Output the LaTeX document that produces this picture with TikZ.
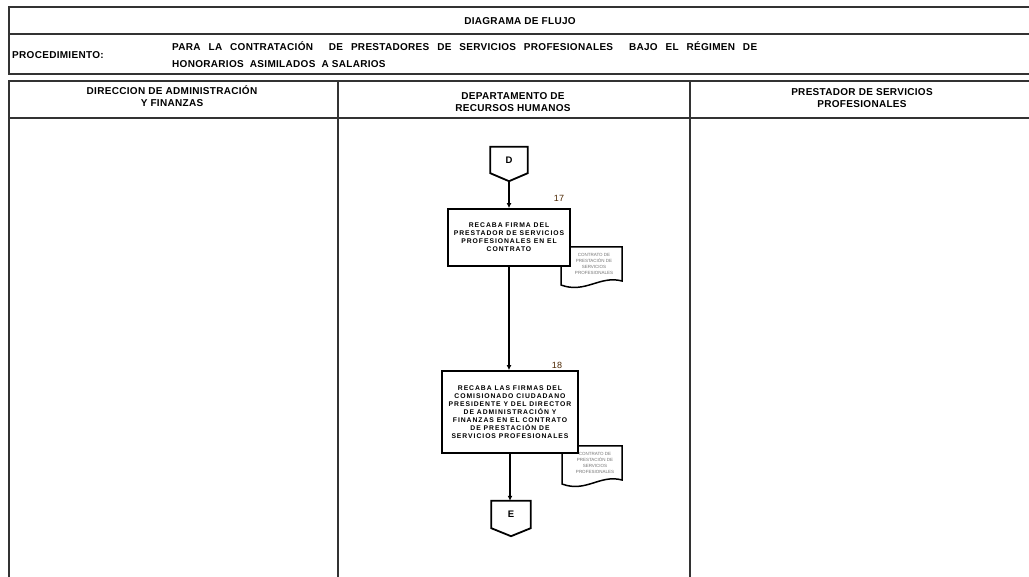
\documentclass[tikz,border=0pt]{standalone}
\usepackage{fontspec}
\setmainfont{Liberation Sans}
\newfontfamily\hdrfont[LetterSpace=3]{Liberation Sans}
\newfontfamily\boxfont[LetterSpace=14]{Liberation Sans}
\usetikzlibrary{arrows.meta}
\tikzset{
  x=1pt, y=-1pt,
  frame/.style={line width=2pt, draw=black!80},
  hdr/.style={font=\hdrfont\bfseries\fontsize{10}{12.5}\selectfont, inner sep=0pt, align=center},
  actbox/.style={draw=black, line width=1.8pt, fill=white, inner sep=0pt, align=center,
                 font=\boxfont\bfseries\fontsize{6.8}{7.9}\selectfont},
  docbox/.style={draw=black, line width=1.5pt, fill=white},
  doctext/.style={font=\fontsize{4.5}{6}\selectfont, text=black!55, align=center, inner sep=0pt},
  offpage/.style={draw=none, inner sep=0pt, font=\bfseries\fontsize{9.5}{10}\selectfont},
  offline/.style={draw=black, line width=1.8pt},
  flow/.style={draw=black, line width=2pt, -{Latex[length=5pt,width=5pt]}},
  stepnum/.style={font=\fontsize{9}{10}\selectfont, text=black!70!orange, inner sep=0pt}
}
\begin{document}
\begin{tikzpicture}
\useasboundingbox (0,0) rectangle (1029,577);
\clip (0,0) rectangle (1029,577);
\fill[white] (0,0) rectangle (1029,577);

% title block
\draw[frame] (1040,7) -- (9,7) -- (9,74) -- (1040,74);
\draw[frame] (9,34) -- (1040,34);
\node[hdr] (title) at (520,21) {DIAGRAMA DE FLUJO};
\node[hdr, anchor=west] (proc) at (12,55) {PROCEDIMIENTO:};
\node[hdr, anchor=north west, align=left, font=\hdrfont\bfseries\fontsize{10}{17}\selectfont] (proctext) at (172,41.5)
  {\makebox[585pt][s]{PARA LA CONTRATACIÓN \ DE PRESTADORES DE SERVICIOS PROFESIONALES \ BAJO EL RÉGIMEN DE}\\HONORARIOS \ ASIMILADOS \ A SALARIOS};

% swimlane table
\draw[frame] (1040,81) -- (9,81) -- (9,590);
\draw[frame] (9,118) -- (1040,118);
\draw[frame] (338,81) -- (338,590);
\draw[frame] (690,81) -- (690,590);
\node[hdr] (lane1) at (172,96) {DIRECCION DE ADMINISTRACIÓN\\Y FINANZAS};
\node[hdr] (lane2) at (513,102) {DEPARTAMENTO DE\\RECURSOS HUMANOS};
\node[hdr] (lane3) at (862,98) {PRESTADOR DE SERVICIOS\\PROFESIONALES};

% off-page connector D
\node[offpage, minimum width=37pt, minimum height=26pt] (D) at (509,160) {D};
\draw[offline] (D.north west) -- (D.north east) -- (D.south east) -- ([yshift=-8pt]D.south) -- (D.south west) -- cycle;
\coordinate (Dtip) at ([yshift=-8pt]D.south);

% document 1 (behind box 17)
\draw[docbox] (561,247) -- (622,247) -- (622,281) .. controls (600,275) and (585,294) .. (561,285) -- cycle;
\node[doctext] (doc1) at (594,264) {CONTRATO DE\\PRESTACIÓN DE\\SERVICIOS\\PROFESIONALES};

% activity 17
\node[actbox, minimum width=122pt, minimum height=57pt] (a17) at (509,237.5)
  {RECABA FIRMA DEL\\PRESTADOR DE SERVICIOS\\PROFESIONALES EN EL\\CONTRATO};
\node[stepnum] (n17) at (559,198) {17};

% document 2 (behind box 18)
\draw[docbox] (562,446) -- (622,446) -- (622,480) .. controls (600,474) and (586,493) .. (562,484) -- cycle;
\node[doctext] (doc2) at (595,463) {CONTRATO DE\\PRESTACIÓN DE\\SERVICIOS\\PROFESIONALES};

% activity 18
\node[actbox, minimum width=136pt, minimum height=82pt] (a18) at (510,412)
  {RECABA LAS FIRMAS DEL\\COMISIONADO CIUDADANO\\PRESIDENTE Y DEL DIRECTOR\\DE ADMINISTRACIÓN Y\\FINANZAS EN EL CONTRATO\\DE PRESTACIÓN DE\\SERVICIOS PROFESIONALES};
\node[stepnum] (n18) at (557,365) {18};

% off-page connector E
\node[offpage, minimum width=39pt, minimum height=27pt] (E) at (511,514.5) {E};
\draw[offline] (E.north west) -- (E.north east) -- (E.south east) -- ([yshift=-8pt]E.south) -- (E.south west) -- cycle;

% flow lines
\draw[flow] (Dtip) -- (a17.north -| Dtip);
\draw[flow] (a17.south) -- (a18.north -| a17.south);
\draw[flow] (a18.south) -- (E.north -| a18.south);
\end{tikzpicture}
\end{document}
